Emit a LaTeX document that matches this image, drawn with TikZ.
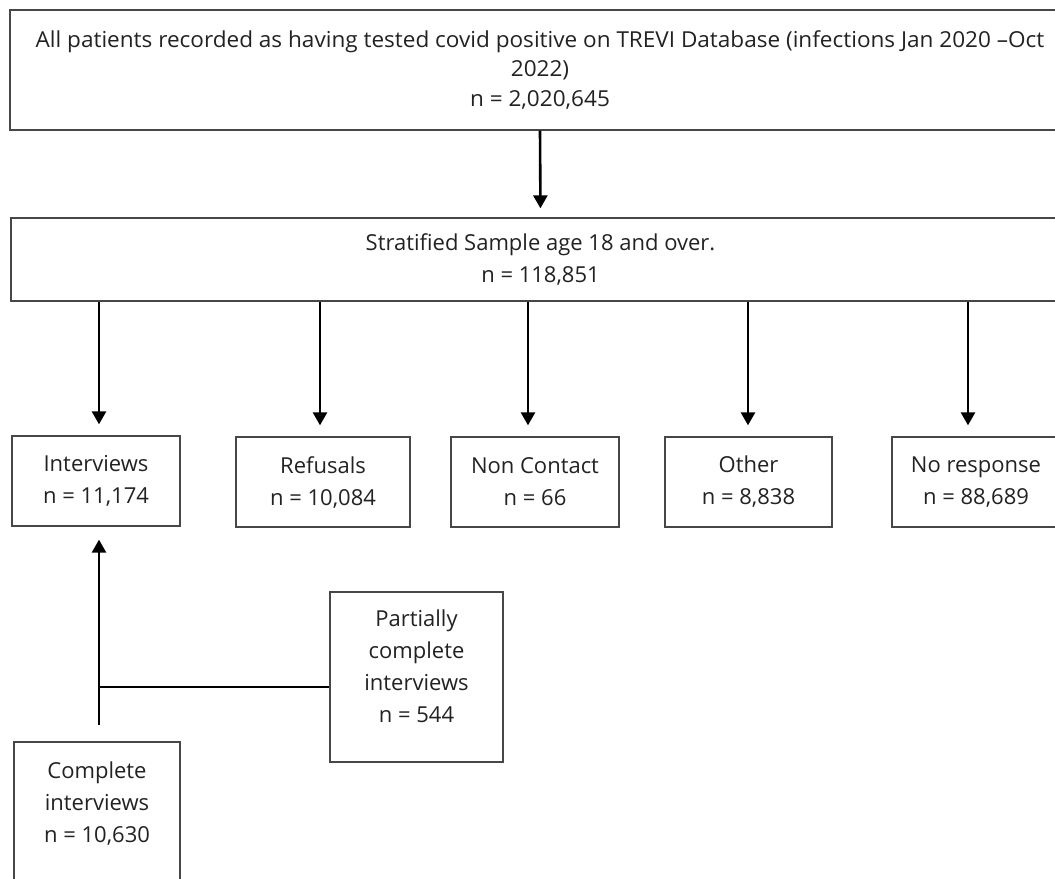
\documentclass[tikz,border=0pt]{standalone}
\usepackage{fontspec}
\setmainfont{Open Sans}
\newfontfamily\widefont{Open Sans}[FakeStretch=1.025]
\usetikzlibrary{arrows.meta}
\definecolor{boxline}{HTML}{474747}
\definecolor{boxtext}{HTML}{222222}
\begin{document}
\begin{tikzpicture}[
      % pixel-like units, y pointing down
      x=1bp,
      y=-1bp,
      box/.style={draw=boxline,line width=1.3bp,align=center,inner sep=0pt,
        text=boxtext,font=\fontsize{22bp}{32bp}\selectfont},
      arr/.style={line width=2.6bp,-{Triangle[width=14bp,length=13bp]}},
      line cap=butt,
    ]
    \useasboundingbox (0,0) rectangle (1055,879);

    % top two boxes (run past the right edge)
    \node[box,minimum width=1060bp,minimum height=120bp,
      font=\widefont\fontsize{22bp}{29.5bp}\selectfont] (total) at (540,70)
      {All patients recorded as having tested covid positive on TREVI Database (infections Jan 2020 –Oct\\2022)\\n = 2,020,645};
    \node[box,minimum width=1059bp,minimum height=83bp] (sample) at (540.5,259.5)
      {Stratified Sample age 18 and over.\\n = 118,851};

    % outcome row
    \node[box,minimum width=168bp,minimum height=90bp] (interviews) at (96,481)
      {Interviews\\n = 11,174};
    \node[box,minimum width=174bp,minimum height=90bp] (refusals) at (323,482)
      {Refusals\\n = 10,084};
    \node[box,minimum width=168bp,minimum height=90bp] (noncontact) at (535,482)
      {Non Contact\\n = 66};
    \node[box,minimum width=167bp,minimum height=90bp] (other) at (748.5,482)
      {Other\\n = 8,838};
    \node[box,minimum width=168bp,minimum height=90bp] (noresponse) at (976,482)
      {No response\\n = 88,689};

    % interview breakdown
    \node[box,minimum width=173bp,minimum height=170bp] (partial) at (416.5,677)
      {Partially\\complete\\interviews\\n = 544\\[-10bp]{}};
    \node[box,minimum width=166bp,minimum height=158bp] (complete) at (97,821)
      {Complete\\interviews\\n = 10,630\\[6bp]{}};

    % arrows
    \draw[arr,shorten >=9bp] (total.south) -- (sample.north);
    \foreach \n/\x in {interviews/99,refusals/320,noncontact/528,other/748,noresponse/968}{
      \coordinate (s-\n) at (\x,0);
      \draw[arr,shorten >=11bp] (sample.south -| s-\n) -- (\n.north -| s-\n);
    }
    \coordinate (up) at (99,0);
    \coordinate (join) at (99,687);
    \draw[arr,shorten <=16bp,shorten >=13bp] (complete.north -| up) -- (interviews.south -| up);
    \draw[line width=1.3bp] (join) -- (join -| partial.west);

    \end{tikzpicture}
\end{document}
